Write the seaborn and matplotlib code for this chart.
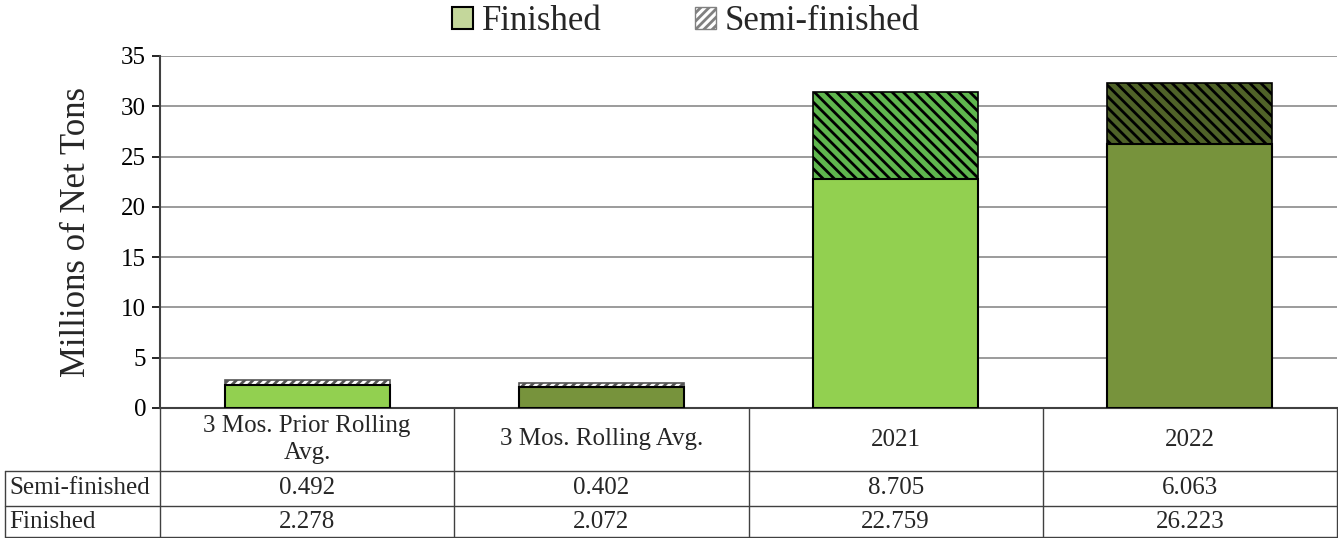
import matplotlib
matplotlib.use("Agg")
import matplotlib.pyplot as plt
import matplotlib.patches as mpatches
import seaborn as sns
import pandas as pd

categories = ['3 Mos. Prior Rolling\nAvg.', '3 Mos. Rolling Avg.', '2021', '2022']
semi_finished = [0.492, 0.402, 8.705, 6.063]
finished = [2.278, 2.072, 22.759, 26.223]
semi_labels = ['0.492', '0.402', '8.705', '6.063']
fin_labels = ['2.278', '2.072', '22.759', '26.223']

fin_colors = ['#92d050', '#77933c', '#92d050', '#77933c']
semi_colors = ['#ffffff', '#ffffff', '#5fb64e', '#4f6228']
semi_hatch = ['////', '////', '\\\\\\', '\\\\\\']

sns.set_style('white')
plt.rcParams['font.family'] = ['Liberation Serif', 'DejaVu Serif']
plt.rcParams['hatch.linewidth'] = 2.0

df = pd.DataFrame({'cat': categories, 'fin': finished,
                   'total': [f + s for f, s in zip(finished, semi_finished)]})

W, H = 1338, 538
fig = plt.figure(figsize=(W / 100, H / 100), dpi=100)
x0, x1 = 160, 1337
ytop, ybot = 56, 408
ax = fig.add_axes([x0 / W, 1 - ybot / H, (x1 - x0) / W, (ybot - ytop) / H])

# stacked bars: total drawn first, finished drawn over it
sns.barplot(data=df, x='cat', y='total', ax=ax, width=0.56, zorder=3)
for i, p in enumerate(ax.patches):
    p.set_facecolor(semi_colors[i])
    p.set_hatch(semi_hatch[i])
    p.set_edgecolor('black')
    p.set_linewidth(1.2)
n = len(ax.patches)
sns.barplot(data=df, x='cat', y='fin', ax=ax, width=0.56, zorder=4)
for i, p in enumerate(ax.patches[n:]):
    p.set_facecolor(fin_colors[i])
    p.set_edgecolor('black')
    p.set_linewidth(1.5)
    p.set_hatch(None)

# hatch colour for the small white bars: grey
for i in range(2):
    ax.patches[i].set_edgecolor('#555555')

ax.set_xlim(-0.5, 3.5)
ax.set_ylim(0, 35)
ax.set_yticks(range(0, 36, 5))
ax.yaxis.grid(True, color='#8a8a8a', linewidth=1.2, zorder=0)
ax.set_axisbelow(True)
ax.set_xlabel('')
ax.set_xticks([])
ax.set_ylabel('Millions of Net Tons', fontsize=25, labelpad=20)
ax.tick_params(axis='y', labelsize=18, length=6, width=1.2, direction='out', left=True, colors='black', pad=4)
for s in ['top', 'right']:
    ax.spines[s].set_visible(False)
ax.spines['left'].set_color('#404040')
ax.spines['left'].set_linewidth(1.5)
ax.spines['bottom'].set_color('#404040')
ax.spines['bottom'].set_linewidth(1.5)

# data table under the plot, drawn in figure pixels
def fx(px):
    return px / W

def fy(py):
    return 1 - py / H

lc = '#404040'
r1, r2, r3 = 471, 506, 537
col_edges = [x0 + (x1 - x0) * k / 4 for k in range(5)]
fig.add_artist(plt.Line2D([fx(5), fx(x1)], [fy(r1), fy(r1)], color=lc, lw=1))
fig.add_artist(plt.Line2D([fx(5), fx(x1)], [fy(r2), fy(r2)], color=lc, lw=1))
fig.add_artist(plt.Line2D([fx(5), fx(x1)], [fy(r3), fy(r3)], color=lc, lw=1))
fig.add_artist(plt.Line2D([fx(5), fx(5)], [fy(r1), fy(r3)], color=lc, lw=1))
for k, cx in enumerate(col_edges):
    fig.add_artist(plt.Line2D([fx(cx), fx(cx)], [fy(ybot), fy(r3)], color=lc, lw=1))

fs = 18
fig.text(fx(9), fy((r1 + r2) / 2), 'Semi-finished', fontsize=fs, ha='left', va='center')
fig.text(fx(9), fy((r2 + r3) / 2), 'Finished', fontsize=fs, ha='left', va='center')
for k in range(4):
    cx = (col_edges[k] + col_edges[k + 1]) / 2
    fig.text(fx(cx), fy((ybot + r1) / 2), categories[k], fontsize=fs, ha='center', va='center',
             linespacing=1.3)
    fig.text(fx(cx), fy((r1 + r2) / 2), semi_labels[k], fontsize=fs, ha='center', va='center')
    fig.text(fx(cx), fy((r2 + r3) / 2), fin_labels[k], fontsize=fs, ha='center', va='center')

# legend
h1 = mpatches.Patch(facecolor='#c4d79b', edgecolor='black', linewidth=1.5, label='Finished')
h2 = mpatches.Patch(facecolor='white', edgecolor='#808080', hatch='////', linewidth=1, label='Semi-finished')
fig.legend(handles=[h1, h2], loc='center', bbox_to_anchor=(fx(686), fy(22)), ncol=2, frameon=False,
           fontsize=25, handlelength=0.6, handleheight=0.6, handletextpad=0.25, columnspacing=2.7)

fig.savefig('out.png', dpi=100)
